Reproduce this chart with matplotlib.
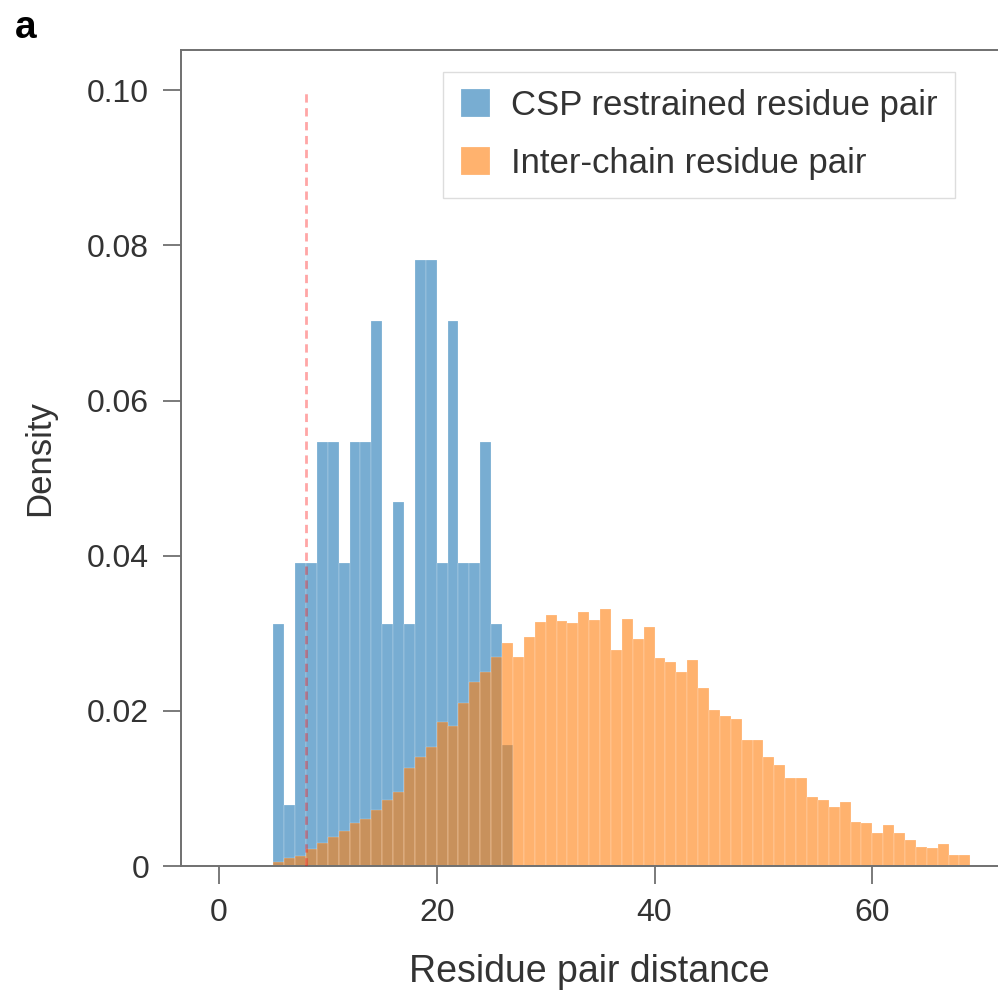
import matplotlib
matplotlib.use("Agg")
import matplotlib.pyplot as plt
import numpy as np

# ---- data ----
bin_start = 5.0
bin_width = 1.0

# CSP restrained residue pair: counts per 1-unit bin from 5 to 27 (N = 128)
csp_counts = [4, 1, 5, 5, 7, 7, 5, 7, 7, 9, 4, 6, 4, 10, 10, 5, 9, 5, 5, 7, 4, 2]

# Inter-chain residue pair: density per 1-unit bin from 5 to 69
inter_density = [
    0.0005, 0.0010, 0.0013, 0.0022, 0.0030, 0.0038, 0.0045, 0.0055, 0.0060, 0.0072,
    0.0085, 0.0095, 0.0126, 0.0140, 0.0153, 0.0186, 0.0180, 0.0210, 0.0237, 0.0250,
    0.0270, 0.0287, 0.0270, 0.0295, 0.0314, 0.0323, 0.0316, 0.0313, 0.0327, 0.0317,
    0.0331, 0.0278, 0.0319, 0.0293, 0.0308, 0.0268, 0.0263, 0.0250, 0.0265, 0.0229,
    0.0201, 0.0194, 0.0190, 0.0162, 0.0162, 0.0140, 0.0130, 0.0113, 0.0113, 0.0089,
    0.0085, 0.0076, 0.0083, 0.0057, 0.0055, 0.0043, 0.0053, 0.0042, 0.0033, 0.0025,
    0.0023, 0.0029, 0.0014, 0.0014,
]

threshold = 8.0
series_labels = ["CSP restrained residue pair", "Inter-chain residue pair"]
xticks = [0, 20, 40, 60]
yticks = [0, 0.02, 0.04, 0.06, 0.08, 0.10]
ytick_labels = ["0", "0.02", "0.04", "0.06", "0.08", "0.10"]

# ---- figure ----
plt.rcParams['font.family'] = ['Liberation Sans', 'DejaVu Sans']
fig = plt.figure(figsize=(9.98, 9.90), dpi=100)
ax = fig.add_axes([181 / 998, 1 - 866 / 990, (998 - 181) / 998, (866 - 50) / 990])

blue = '#1f77b4'
orange = '#ff7f0e'

csp_counts_arr = np.array(csp_counts, dtype=float)
csp_edges = bin_start + bin_width * np.arange(len(csp_counts) + 1)
csp_density = csp_counts_arr / (csp_counts_arr.sum() * bin_width)
inter_edges = bin_start + bin_width * np.arange(len(inter_density) + 1)

ax.bar(csp_edges[:-1], csp_density, width=bin_width, align='edge',
       color=blue, alpha=0.6, edgecolor='white', linewidth=0.25,
       label=series_labels[0])
ax.bar(inter_edges[:-1], inter_density, width=bin_width, align='edge',
       color=orange, alpha=0.6, edgecolor='white', linewidth=0.25,
       label=series_labels[1])

ax.vlines(threshold, 0, 0.10, colors='red', linestyles=(0, (3, 2)),
          linewidth=2, alpha=0.35, zorder=3)

ax.set_xlim(-3.48, 71.54)
ax.set_ylim(0, 0.1052)
ax.set_xticks(xticks)
ax.set_yticks(yticks)
ax.set_yticklabels(ytick_labels)

spine_color = '#707070'
for s in ['left', 'top', 'bottom']:
    ax.spines[s].set_color(spine_color)
    ax.spines[s].set_linewidth(1.4)
ax.spines['right'].set_visible(False)

ax.tick_params(axis='both', length=13, width=1.3, color=spine_color,
               labelsize=23, labelcolor='#333333', pad=10)

ax.set_xlabel("Residue pair distance", fontsize=27, color='#333333', labelpad=19)
ax.set_ylabel("Density", fontsize=25, color='#333333', labelpad=22)

leg = ax.legend(loc='upper right', fontsize=25,
                handlelength=0.85, handleheight=0.85, handletextpad=0.6,
                borderpad=0.5, labelspacing=0.72, borderaxespad=0,
                fancybox=False, framealpha=1, edgecolor='#dddddd',
                labelcolor='#333333')
leg.set_bbox_to_anchor(((955 - 181) / 817, (866 - 72) / 816), transform=ax.transAxes)

fig.text(15 / 998, 1 - 38 / 990, "a", fontsize=28, fontweight='bold', ha='left', va='baseline')

fig.savefig("out.png", dpi=100)
